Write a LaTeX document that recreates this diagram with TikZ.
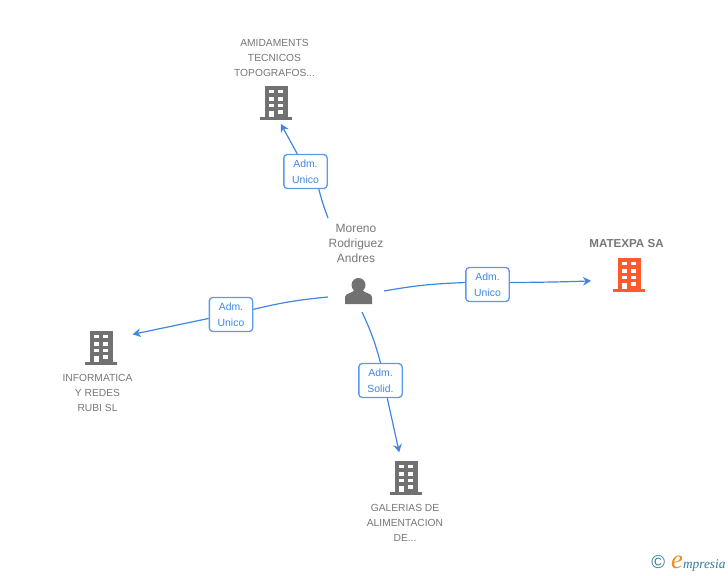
\documentclass[tikz,border=0pt]{standalone}
\usepackage{fontspec}
\setmainfont{Liberation Sans}
\newfontfamily\logofont{Liberation Serif}
\usetikzlibrary{arrows.meta}
\definecolor{iconGray}{HTML}{717171}
\definecolor{iconOrange}{HTML}{FF5A2D}
\definecolor{textGray}{HTML}{777777}
\definecolor{linkBlue}{HTML}{3F86E3}
\definecolor{boxBlue}{HTML}{5B9BEE}
\definecolor{logoTeal}{HTML}{2F7C99}
\definecolor{logoOrange}{HTML}{F28A1E}
\tikzset{
	pics/bldg/.style={code={
		\fill[#1] (-11,17) rectangle (12,-14);
		\fill[#1] (-16,-14) rectangle (16,-17);
		\foreach \wx in {-7,2} \foreach \wy in {13,5.7,-1} {
			\fill[white] (\wx,\wy) rectangle ++(5,-3.4);
		}
		\fill[white] (-7,-7.7) rectangle (-2,-14);
		\fill[white] (2,-7) rectangle (7,-11);
	}},
	pics/personicon/.style={code={
		\fill[iconGray] (0,6) circle (7);
		\fill[iconGray] (-13.5,-13) -- (-13.5,-6) .. controls (-13.5,-2) and (-5,-2) .. (-4,1) -- (4,1) .. controls (5,-2) and (13.5,-2) .. (13.5,-6) -- (13.5,-13) -- cycle;
	}},
	iconbox/.style={minimum width=24pt,minimum height=25.5pt,inner sep=0pt,outer sep=0pt},
	firmlabel/.style={text=textGray,align=center,font=\fontsize{7.7}{11.25}\selectfont},
	role/.style={draw=boxBlue,line width=1pt,fill=white,rounded corners=2.6pt,text=linkBlue,align=center,
		font=\fontsize{7.8}{12}\selectfont,minimum width=32.5pt,minimum height=25.5pt,inner sep=0pt},
	link/.style={draw=linkBlue,line width=0.9pt},
	tolink/.style={link,-{Stealth[length=6pt,width=6.5pt]}}
}
\begin{document}
\begin{tikzpicture}[x=0.75pt,y=0.75pt,line width=0.75pt]
\useasboundingbox (0,0) rectangle (728,-575);

\node (bAmid) [iconbox] at (276,-103) {};
\node (bInfo) [iconbox] at (101,-348) {};
\node (bGal) [iconbox] at (406,-478) {};
\node (bMat) [iconbox] at (629,-275) {};
\pic at (bAmid) {bldg=iconGray};
\pic at (bInfo) {bldg=iconGray};
\pic at (bGal) {bldg=iconGray};
\pic at (bMat) {bldg=iconOrange};

\node (tAmid) [firmlabel] at (274.5,-57.5) {AMIDAMENTS\\TECNICOS\\TOPOGRAFOS...};
\node (tInfo) [firmlabel] at (97.5,-393) {INFORMATICA\\Y REDES\\RUBI SL};
\node (tGal) [firmlabel] at (405,-523) {GALERIAS DE\\ALIMENTACION\\DE...};
\node (tMat) [firmlabel,font=\fontsize{8.7}{11.25}\selectfont\bfseries] at (626.5,-244) {MATEXPA SA};

\node (tPers) [firmlabel,font=\fontsize{9}{11.25}\selectfont] at (356,-243) {Moreno\\Rodriguez\\Andres};
\node (person) [minimum size=20pt,inner sep=0pt] at (358.5,-291) {};
\pic at (person) {personicon};

\node (rTop) [role] at (305.5,-171.5) {Adm.\\Unico};
\node (rRight) [role] at (487.5,-284.5) {Adm.\\Unico};
\node (rLeft) [role] at (231,-314.5) {Adm.\\Unico};
\node (rDown) [role] at (380.5,-380.5) {Adm.\\Solid.};

% free ends beside the person
\coordinate (sTop) at (328,-218);
\coordinate (sRight) at (384,-291);
\coordinate (sLeft) at (328,-297);
\coordinate (sDown) at (362,-312);

\draw[link] (sTop) to[bend left=3] (rTop.-53);
\draw[tolink,shorten >=3.4pt] (rTop.115) to (bAmid.-81);

\draw[link] (sRight) to[bend left=4] (rRight.175);
\draw[tolink,shorten >=16.5pt] (rRight.5) to[bend right=1] (bMat.197);

\draw[link] (sLeft) to[bend right=4] (rLeft.13);
\draw[tolink,shorten >=12pt] (rLeft.190) to (bInfo.33);

\draw[link] (sDown) to[bend left=5] (rDown.90);
\draw[tolink,shorten >=6.7pt] (rDown.-69) to (bGal.106);

\node (logo) [anchor=east,inner sep=0pt,text=logoTeal] at (726,-563) {\fontsize{14}{14}\selectfont\textcopyright\hspace{4.5pt}{\logofont\itshape\fontsize{20}{20}\selectfont\textcolor{logoOrange}{e}\fontsize{10}{11}\selectfont mpresia}};
\end{tikzpicture}
\end{document}
